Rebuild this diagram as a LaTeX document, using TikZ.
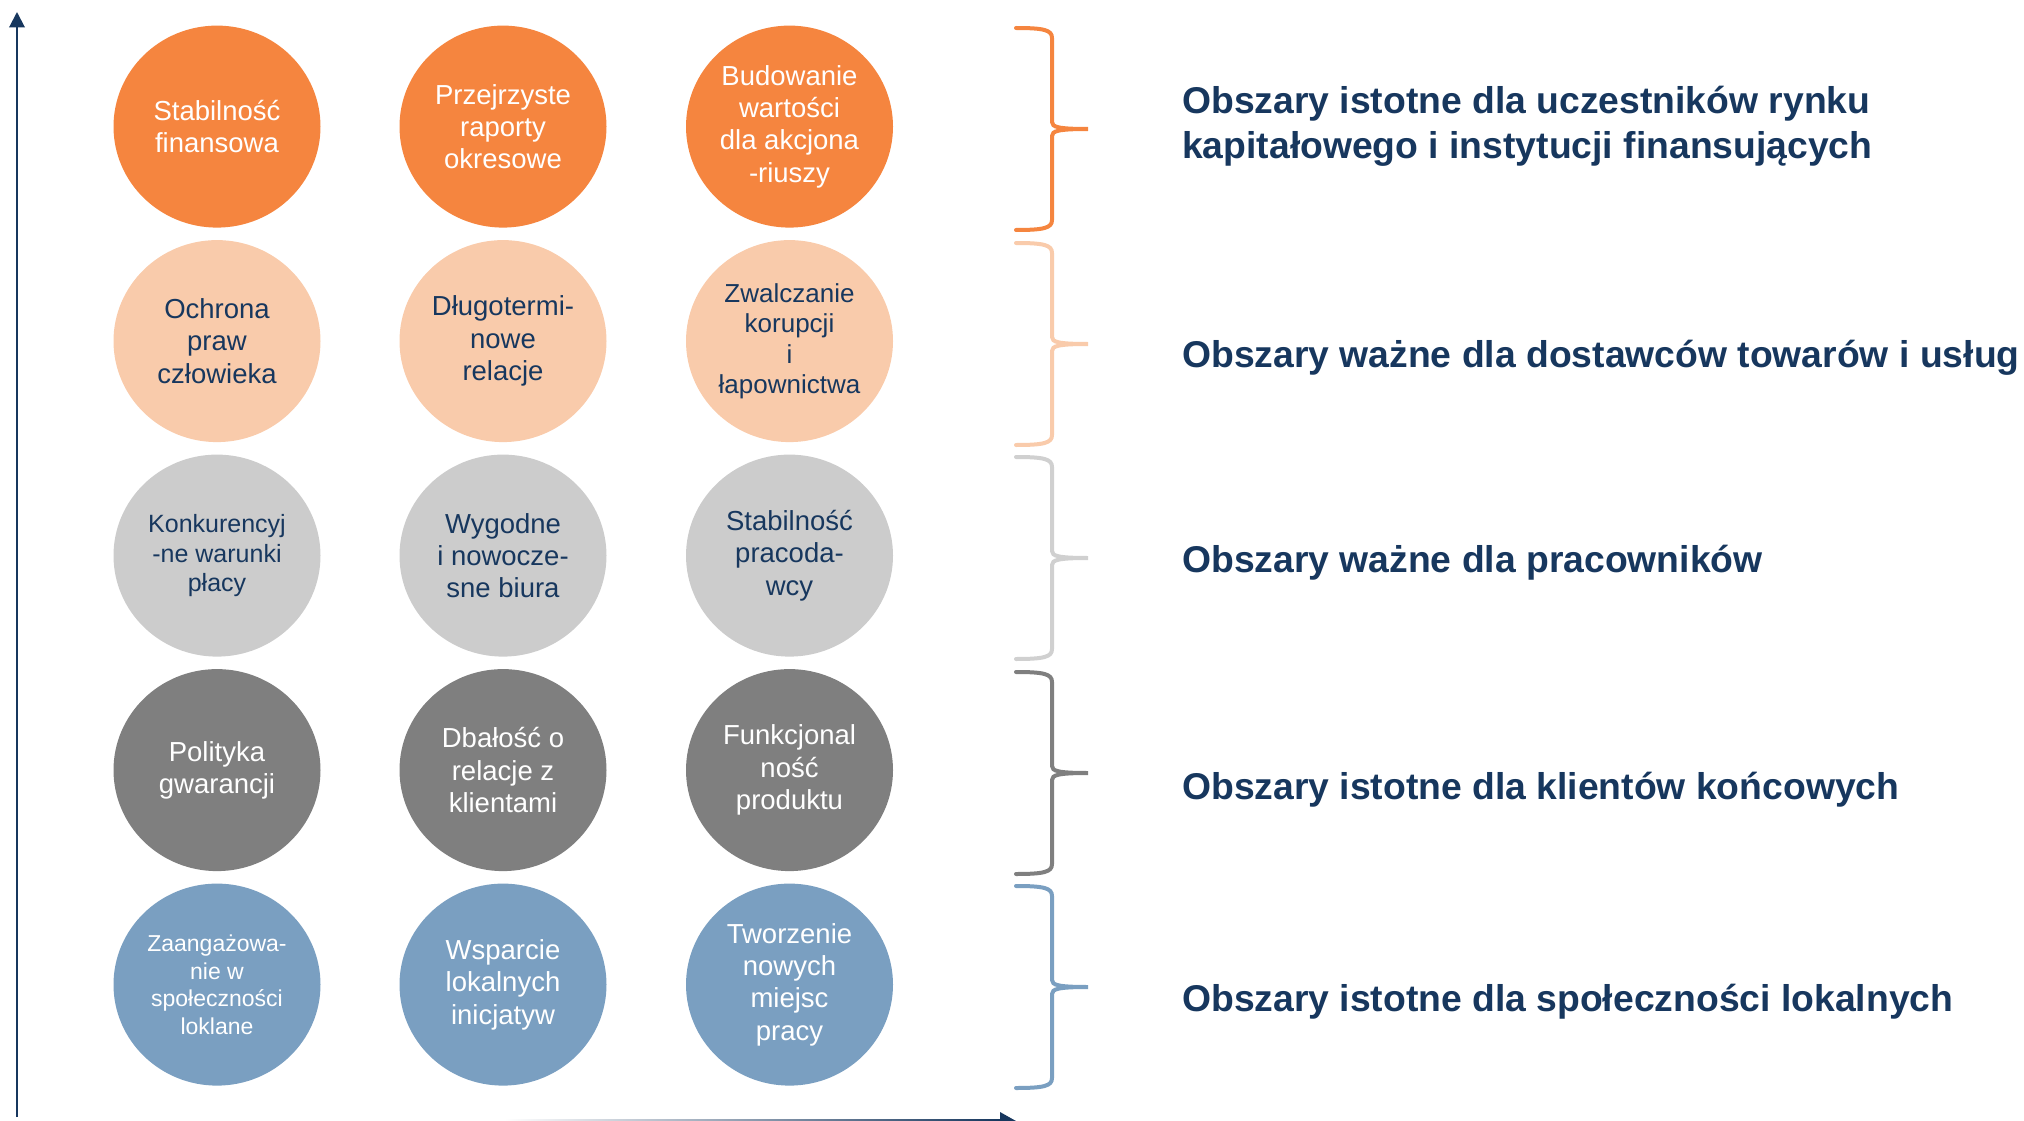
\documentclass[tikz,border=0pt]{standalone}
\usepackage{fontspec}
\setmainfont{Liberation Sans}
\usetikzlibrary{shapes.geometric,arrows.meta}
\definecolor{cOrange}{HTML}{F5853F}
\definecolor{cPeach}{HTML}{F9CBAB}
\definecolor{cLight}{HTML}{CCCCCC}
\definecolor{cDark}{HTML}{7F7F7F}
\definecolor{cBlue}{HTML}{7A9FC1}
\definecolor{bLight}{HTML}{D0D0D0}
\definecolor{navy}{HTML}{17375E}
\tikzset{
  circ/.style={ellipse, inner sep=0pt, minimum width=207pt, minimum height=202pt,
    align=center, font=\fontsize{27.5}{32.3}\selectfont},
  onwhite/.style={text=white},
  onnavy/.style={text=navy},
  bracestroke/.style={line width=4pt, line cap=round},
  lbl/.style={anchor=west, align=left, text=navy, inner sep=0pt,
    font=\fontsize{37.3}{45}\selectfont\bfseries},
  axisline/.style={navy, line width=2pt},
}
\begin{document}
\begin{tikzpicture}[x=1pt,y=-1pt]
\useasboundingbox (0,0) rectangle (2024,1121);
% axes
\coordinate (origin) at (17,1117);
\coordinate (ytop) at (17,12);
\draw[axisline, -{Triangle[width=15.5pt,length=15.5pt]}] (origin) -- (ytop);
\shade[left color=white, right color=navy] (504,1119) rectangle (1001,1121);
\coordinate (xtip) at (1016,1121);
\fill[navy] (1000,1112) -- (xtip) -- (1000,1130) -- cycle;
% row 1
\node[circ, fill=cOrange, onwhite] (c11) at (217,126.6) {Stabilność\\finansowa};
\node[circ, fill=cOrange, onwhite] (c12) at (503,126.6) {Przejrzyste\\raporty\\okresowe};
\node[circ, fill=cOrange, onwhite] (c13) at (789.5,126.6) {Budowanie\\wartości\\dla akcjona\\-riuszy};
% row 2
\node[circ, fill=cPeach, onnavy] (c21) at (217,341.1) {Ochrona\\praw\\człowieka};
\node[circ, fill=cPeach, onnavy] (c22) at (503,341.1) {Długotermi-\\nowe\\relacje};
\node[circ, fill=cPeach, onnavy, font=\fontsize{26}{30.5}\selectfont] (c23) at (789.5,341.1) {Zwalczanie\\korupcji\\i\\łapownictwa};
% row 3
\node[circ, fill=cLight, onnavy, font=\fontsize{25}{29.7}\selectfont] (c31) at (217,555.6) {Konkurencyj\\-ne warunki\\płacy};
\node[circ, fill=cLight, onnavy] (c32) at (503,555.6) {Wygodne\\i nowocze-\\sne biura};
\node[circ, fill=cLight, onnavy] (c33) at (789.5,555.6) {Stabilność\\pracoda-\\wcy};
% row 4
\node[circ, fill=cDark, onwhite] (c41) at (217,770.1) {Polityka\\gwarancji};
\node[circ, fill=cDark, onwhite] (c42) at (503,770.1) {Dbałość o\\relacje z\\klientami};
\node[circ, fill=cDark, onwhite] (c43) at (789.5,770.1) {Funkcjonal\\ność\\produktu};
% row 5
\node[circ, fill=cBlue, onwhite, font=\fontsize{23}{27.5}\selectfont] (c51) at (217,984.6) {Zaangażowa-\\nie w\\społeczności\\loklane};
\node[circ, fill=cBlue, onwhite] (c52) at (503,984.6) {Wsparcie\\lokalnych\\inicjatyw};
\node[circ, fill=cBlue, onwhite] (c53) at (789.5,984.6) {Tworzenie\\nowych\\miejsc\\pracy};
% braces
\foreach \t/\c in {28/cOrange, 243/cPeach, 457/bLight, 672/cDark, 886/cBlue}{
  \draw[bracestroke, \c]
    (1016,\t) .. controls (1044,\t) and (1052,{\t+2}) .. (1052,{\t+10})
    -- (1052,{\t+94}) .. controls (1052,{\t+99}) and (1058,{\t+101}) .. (1088,{\t+101})
    .. controls (1058,{\t+101}) and (1052,{\t+103}) .. (1052,{\t+108})
    -- (1052,{\t+192}) .. controls (1052,{\t+200}) and (1044,{\t+202}) .. (1016,{\t+202});
}
% labels
\node[lbl] (l1) at (1182,126.5) {Obszary istotne dla uczestników rynku\\kapitałowego i instytucji finansujących};
\node[lbl] (l2) at (1182,358) {Obszary ważne dla dostawców towarów i usług};
\node[lbl] (l3) at (1182,563) {Obszary ważne dla pracowników};
\node[lbl] (l4) at (1182,790) {Obszary istotne dla klientów końcowych};
\node[lbl] (l5) at (1182,1002) {Obszary istotne dla społeczności lokalnych};
\end{tikzpicture}
\end{document}
